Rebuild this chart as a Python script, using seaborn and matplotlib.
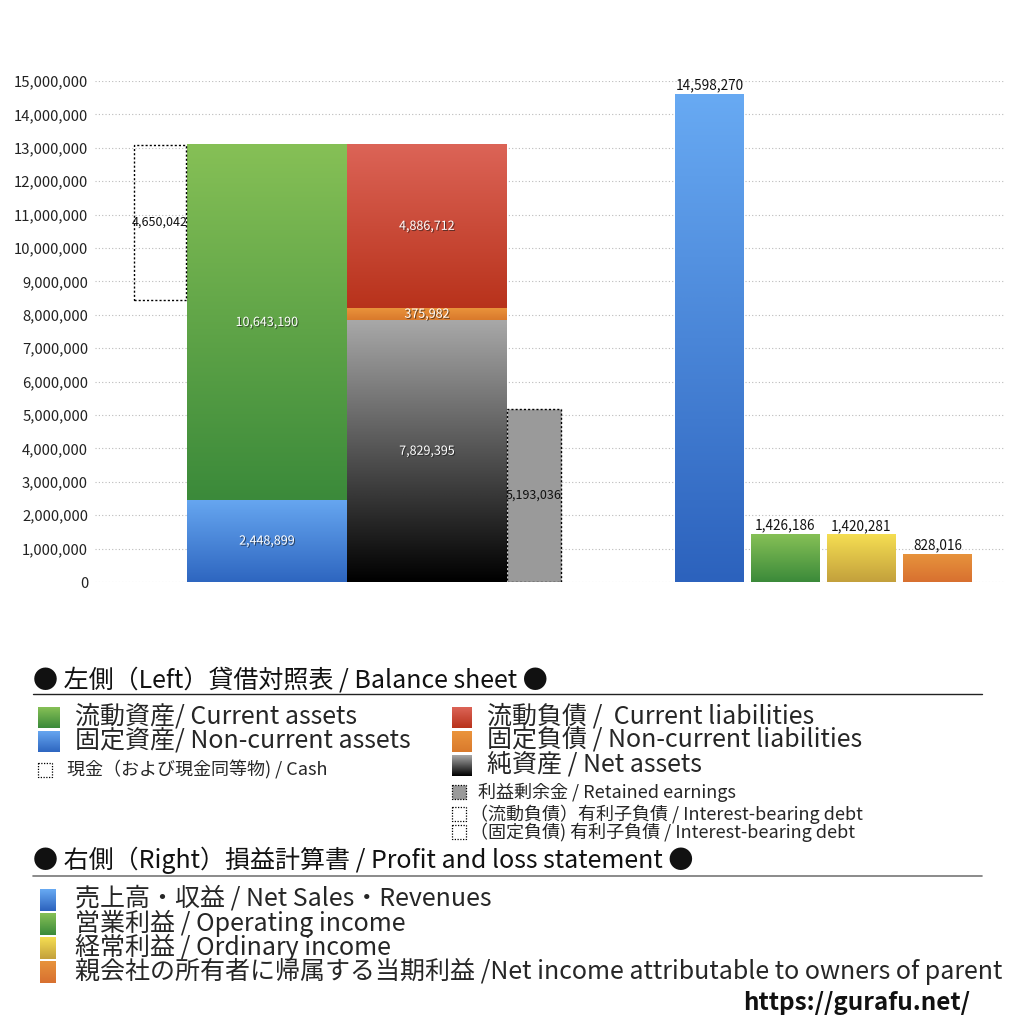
import numpy as np
import matplotlib
matplotlib.use("Agg")
import matplotlib.pyplot as plt
import matplotlib.patheffects as pe
from matplotlib.colors import LinearSegmentedColormap
from matplotlib.patches import Rectangle
from matplotlib.ticker import FuncFormatter, MultipleLocator
import seaborn as sns

# ---------------- data ----------------
bs_asset_labels = ["固定資産", "流動資産"]
bs_asset_values = [2448899, 10643190]
cash_value = 4650042
bs_liab_labels = ["純資産", "固定負債", "流動負債"]
bs_liab_values = [7829395, 375982, 4886712]
retained_earnings = 5193036
pl_labels = ["売上高・収益", "営業利益", "経常利益", "当期利益"]
pl_values = [14598270, 1426186, 1420281, 828016]
y_ticks = list(range(0, 15000001, 1000000))

# ---------------- style ----------------
sns.set_theme(style="white")
FONT = ["Noto Sans CJK JP", "DejaVu Sans"]
plt.rcParams["font.family"] = FONT

fig = plt.figure(figsize=(10.24, 10.24), dpi=100)
W = H = 1024.0
ax = fig.add_axes([95 / W, 1 - 582 / H, 910 / W, 501 / H])
ax.set_xlim(95, 1005)
ax.set_ylim(0, 15000000)

for s in ax.spines.values():
    s.set_visible(False)
ax.set_yticks(y_ticks)
ax.yaxis.set_major_formatter(FuncFormatter(lambda v, p: f"{int(v):,}"))
ax.tick_params(axis="y", labelsize=10.7, pad=5, length=0, colors="#222222")
ax.set_xticks([])
ax.yaxis.grid(True, linestyle=(0, (1, 2)), color="#bbbbbb", linewidth=0.8)
ax.set_axisbelow(True)


def grad_bars(ax, xs, heights, width, bottoms, tops, bots, z=2):
    bars = ax.bar(xs, heights, width=width, bottom=bottoms, color="none",
                  edgecolor="none", zorder=z)
    grad = np.linspace(0, 1, 256).reshape(-1, 1)
    for p, tc, bc in zip(bars, tops, bots):
        x0, y0 = p.get_x(), p.get_y()
        x1, y1 = x0 + p.get_width(), y0 + p.get_height()
        cmap = LinearSegmentedColormap.from_list("g", [bc, tc])
        ax.imshow(grad, extent=[x0, x1, y0, y1], origin="lower", cmap=cmap,
                  aspect="auto", zorder=z, interpolation="bicubic")
    return bars


shadow = [pe.SimplePatchShadow(offset=(0.8, -0.8), shadow_rgbFace="k", alpha=0.6), pe.Normal()]

# assets column
a_bottoms = [0, bs_asset_values[0]]
grad_bars(ax, [267, 267], bs_asset_values, 160, a_bottoms,
          ["#66a6f0", "#86c056"], ["#2e66c0", "#3b8a3a"])
for v, b in zip(bs_asset_values, a_bottoms):
    ax.text(267, b + v / 2, f"{v:,}", ha="center", va="center",
            color="white", fontsize=9, path_effects=shadow, zorder=5)

total_assets = sum(bs_asset_values)
# cash dashed box
ax.bar([160], [cash_value], width=52, bottom=[total_assets - cash_value],
       fill=False, edgecolor="black", linestyle=(0, (1.5, 1.5)), linewidth=1, zorder=3)
ax.text(160, total_assets - cash_value / 2, f"{cash_value:,}", ha="center",
        va="center", color="#111111", fontsize=9, zorder=5)

# liabilities + net assets column
l_bottoms = [0, bs_liab_values[0], bs_liab_values[0] + bs_liab_values[1]]
grad_bars(ax, [427] * 3, bs_liab_values, 160, l_bottoms,
          ["#a8a8a8", "#eb943c", "#dc6457"], ["#000000", "#d97a2c", "#b8321b"])
for v, b in zip(bs_liab_values, l_bottoms):
    ax.text(427, b + v / 2, f"{v:,}", ha="center", va="center",
            color="white", fontsize=9, path_effects=shadow, zorder=5)

# retained earnings
ax.bar([534], [retained_earnings], width=54, color="#9a9a9a", edgecolor="black",
       linestyle=(0, (1.5, 1.5)), linewidth=1, zorder=3)
ax.text(534, retained_earnings / 2, f"{retained_earnings:,}", ha="center",
        va="center", color="#111111", fontsize=9, zorder=5)

# P&L bars
pl_x = [709.5, 785.5, 861.5, 937.5]
grad_bars(ax, pl_x, pl_values, 69, [0] * 4,
          ["#68aaf3", "#86c056", "#f5de52", "#e7933c"],
          ["#2c62bd", "#3b8a3a", "#c3a03c", "#d87030"])
for x, v in zip(pl_x, pl_values):
    ax.text(x, v + 50000, f"{v:,}", ha="center", va="bottom",
            color="#111111", fontsize=9.8, zorder=5)

ax.set_xlim(95, 1005)
ax.set_ylim(0, 15000000)

# ---------------- legend overlay (pixel coordinates) ----------------
lx = fig.add_axes([0, 0, 1, 1], zorder=-1)
lx.set_xlim(0, W)
lx.set_ylim(H, 0)
lx.axis("off")
lx.patch.set_alpha(0)


def swatch(x, y, w, h, top, bot):
    cmap = LinearSegmentedColormap.from_list("s", [top, bot])
    grad = np.linspace(0, 1, 64).reshape(-1, 1)
    lx.imshow(grad, extent=[x, x + w, y + h, y], origin="upper", cmap=cmap,
              aspect="auto", interpolation="bicubic")


def dotted(x, y, w, h, face="none"):
    lx.add_patch(Rectangle((x, y), w, h, facecolor=face, edgecolor="black",
                           linestyle=(0, (1, 1.2)), linewidth=0.9))


BIG = 18
SMALL = 13

lx.text(33, 680, "● 左側（Left）貸借対照表 / Balance sheet ●", fontsize=BIG,
        va="center", ha="left", color="#111111")
lx.plot([33, 982], [694, 694], color="#222222", lw=1)

swatch(38, 707, 22, 21, "#86c056", "#3b8a3a")
lx.text(75, 717, "流動資産/ Current assets", fontsize=BIG, va="center")
swatch(38, 731, 22, 21, "#66a6f0", "#2e66c0")
lx.text(75, 741, "固定資産/ Non-current assets", fontsize=BIG, va="center")
dotted(38, 763, 14, 14)
lx.text(67, 770, "現金（および現金同等物) / Cash", fontsize=SMALL, va="center")

swatch(452, 707, 20, 21, "#dc6457", "#b8321b")
lx.text(487, 717, "流動負債 /  Current liabilities", fontsize=BIG, va="center")
swatch(452, 731, 20, 21, "#eb943c", "#d97a2c")
lx.text(487, 741, "固定負債 / Non-current liabilities", fontsize=BIG, va="center")
swatch(452, 755, 20, 21, "#a8a8a8", "#000000")
lx.text(487, 765, "純資産 / Net assets", fontsize=BIG, va="center")
dotted(452, 785, 14, 14, face="#9a9a9a")
lx.text(478, 792, "利益剰余金 / Retained earnings", fontsize=SMALL, va="center")
dotted(452, 807, 14, 14)
lx.text(470, 814, "（流動負債）有利子負債 / Interest-bearing debt", fontsize=SMALL, va="center")
dotted(452, 825, 14, 14)
lx.text(470, 832, "（固定負債) 有利子負債 / Interest-bearing debt", fontsize=SMALL, va="center")

lx.text(33, 860, "● 右側（Right）損益計算書 / Profit and loss statement ●", fontsize=BIG,
        va="center", ha="left", color="#111111")
lx.plot([33, 982], [876, 876], color="#777777", lw=1.2)

pl_legend = [
    ("売上高・収益 / Net Sales・Revenues", "#68aaf3", "#2c62bd"),
    ("営業利益 / Operating income", "#86c056", "#3b8a3a"),
    ("経常利益 / Ordinary income", "#f5de52", "#c3a03c"),
    ("親会社の所有者に帰属する当期利益 /Net income attributable to owners of parent", "#e7933c", "#d87030"),
]
for i, (t, tc, bc) in enumerate(pl_legend):
    y = 889 + 24 * i
    swatch(40, y, 16, 22, tc, bc)
    lx.text(75, y + 10, t, fontsize=BIG, va="center")

lx.text(970, 1003, "https://gurafu.net/", fontsize=17.5, fontweight="bold",
        ha="right", va="center", color="#111111")

fig.savefig("out.png", dpi=100, facecolor="white")
